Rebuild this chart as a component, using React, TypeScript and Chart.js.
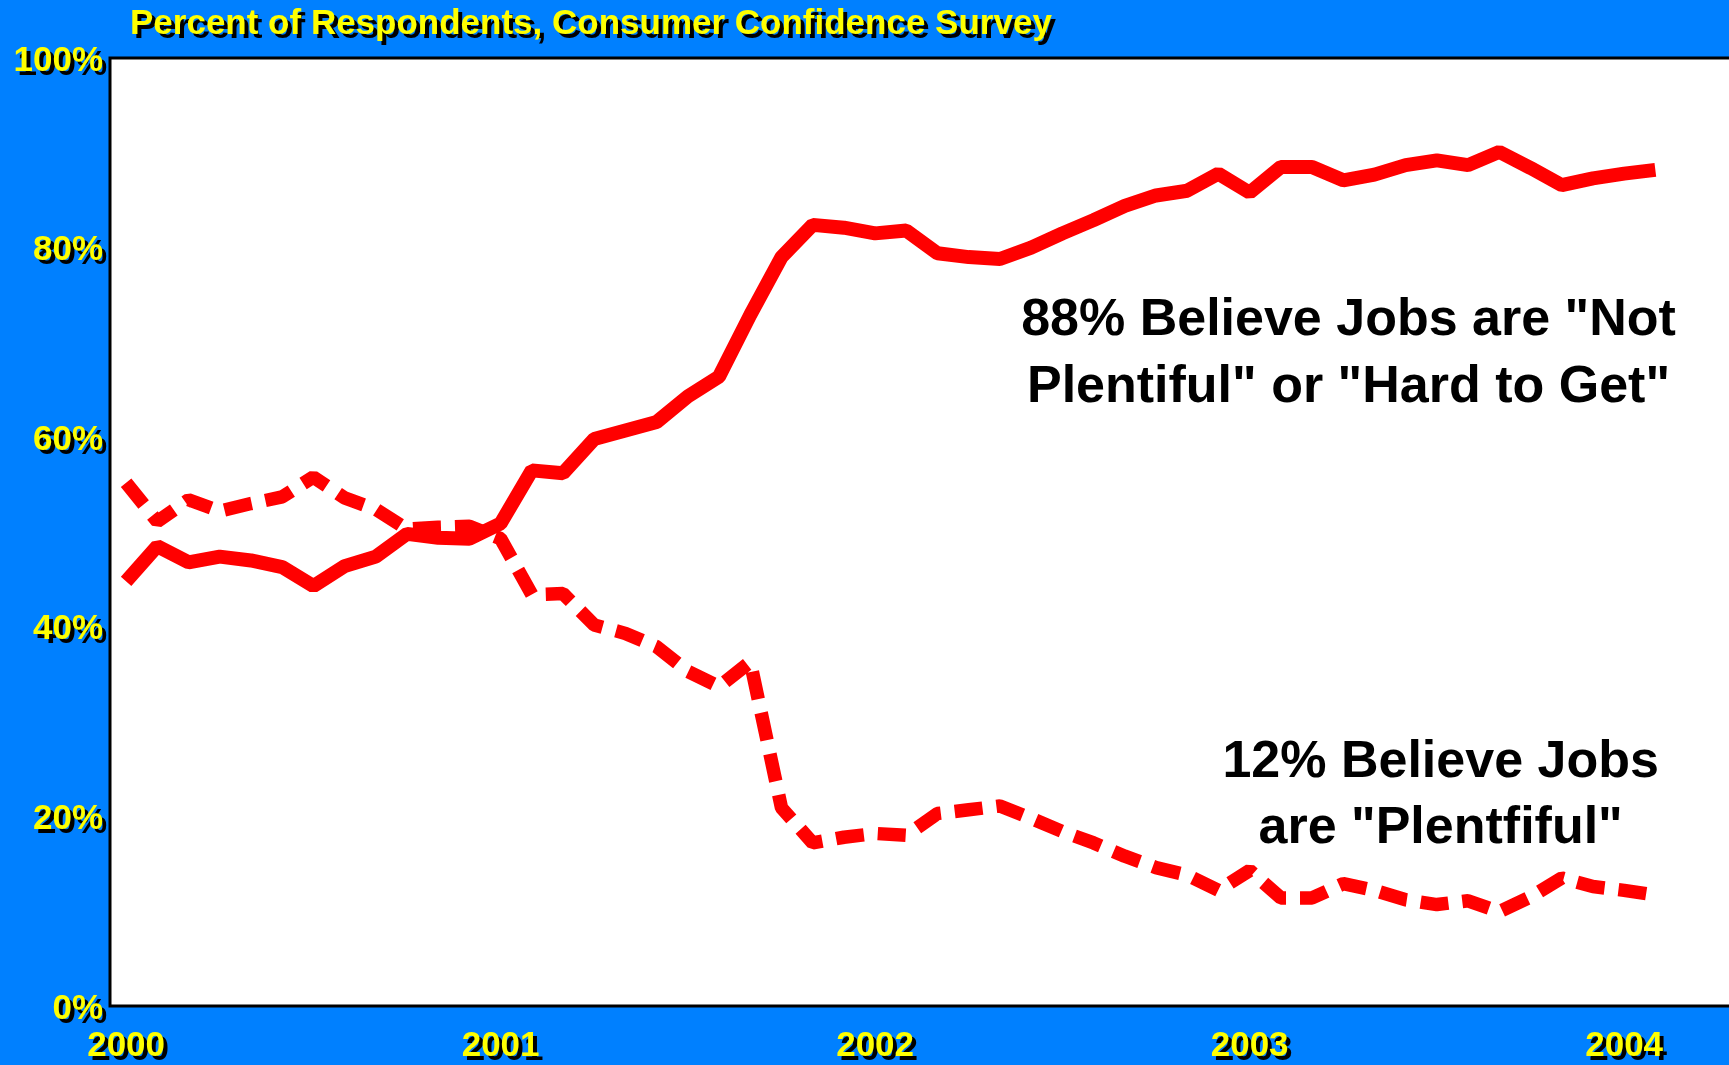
import React, { useEffect, useRef } from 'react';
import { Chart, registerables } from 'chart.js';

Chart.register(...registerables);

// ---- data (monthly, Jan 2000 .. Feb 2004) ----
const startYear = 2000;
const yearTicks = [2000, 2001, 2002, 2003, 2004];
const percentTicks = [0, 20, 40, 60, 80, 100];

const notPlentiful2000 = [44.8, 48.5, 46.8, 47.4, 47.0, 46.3, 44.3, 46.4, 47.4, 49.8, 49.4, 49.3];
const notPlentiful2001 = [50.9, 56.5, 56.2, 59.8, 60.7, 61.6, 64.3, 66.4, 72.9, 79.0, 82.4, 82.1];
const notPlentiful2002 = [81.5, 81.8, 79.4, 79.0, 78.8, 80.0, 81.5, 82.9, 84.4, 85.5, 86.0, 87.8];
const notPlentiful2003 = [85.8, 88.5, 88.5, 87.1, 87.7, 88.7, 89.2, 88.7, 90.1, 88.4, 86.6, 87.3];
const notPlentiful2004 = [87.8, 88.2];

const plentiful2000 = [55.2, 51.1, 53.4, 52.2, 53.0, 53.7, 55.8, 53.6, 52.4, 50.3, 50.5, 50.6];
const plentiful2001 = [49.3, 43.4, 43.5, 40.2, 39.3, 37.9, 35.3, 33.7, 36.3, 20.9, 17.2, 17.8];
const plentiful2002 = [18.2, 18.0, 20.3, 20.7, 21.1, 19.8, 18.4, 17.2, 15.8, 14.6, 13.8, 12.2];
const plentiful2003 = [14.3, 11.4, 11.4, 12.9, 12.2, 11.2, 10.7, 11.1, 9.95, 11.5, 13.5, 12.6];
const plentiful2004 = [12.2, 11.7];

const titleText = 'Percent of Respondents, Consumer Confidence Survey';
const noteNotPlentiful = ['88% Believe Jobs are "Not', 'Plentiful" or "Hard to Get"'];
const notePlentiful = ['12% Believe Jobs', 'are "Plentfiful"'];
// anchor of each note in data units: [x (year), y (percent) of first baseline]
const noteNotPlentifulAt = [2003.264, 70.8];
const notePlentifulAt = [2003.51, 24.2];

const notPlentiful = [...notPlentiful2000, ...notPlentiful2001, ...notPlentiful2002, ...notPlentiful2003, ...notPlentiful2004];
const plentiful = [...plentiful2000, ...plentiful2001, ...plentiful2002, ...plentiful2003, ...plentiful2004];

const toPoints = (arr: number[]) => arr.map((v, i) => ({ x: startYear + i / 12, y: v }));

const FONT = '"Liberation Sans", Arial, Helvetica, sans-serif';
const BLUE = '#0080FF';
const YELLOW = '#FFFF00';
const RED = '#FF0000';

const W = 1729;
const H = 1065;

const decorPlugin = {
  id: 'decor',
  beforeDraw(chart: any) {
    const { ctx, chartArea } = chart;
    ctx.save();
    ctx.fillStyle = BLUE;
    ctx.fillRect(0, 0, chart.width, chart.height);
    ctx.fillStyle = '#FFFFFF';
    ctx.fillRect(chartArea.left, chartArea.top, chartArea.right - chartArea.left, chartArea.bottom - chartArea.top);
    // title with shadow
    ctx.font = `bold 35px ${FONT}`;
    ctx.textAlign = 'left';
    ctx.textBaseline = 'alphabetic';
    ctx.fillStyle = '#000000';
    ctx.fillText(titleText, 134, 38);
    ctx.fillStyle = YELLOW;
    ctx.fillText(titleText, 130, 34);
    ctx.restore();
    // shadow for tick labels drawn by the scales
    ctx.shadowColor = '#000000';
    ctx.shadowOffsetX = 4;
    ctx.shadowOffsetY = 4;
    ctx.shadowBlur = 0;
  },
  beforeDatasetsDraw(chart: any) {
    const { ctx } = chart;
    ctx.shadowColor = 'rgba(0,0,0,0)';
    ctx.shadowOffsetX = 0;
    ctx.shadowOffsetY = 0;
  },
  afterDraw(chart: any) {
    const { ctx, chartArea, scales } = chart;
    ctx.save();
    ctx.strokeStyle = '#000000';
    ctx.lineWidth = 3;
    ctx.beginPath();
    ctx.moveTo(chart.width, chartArea.top);
    ctx.lineTo(chartArea.left, chartArea.top);
    ctx.lineTo(chartArea.left, chartArea.bottom);
    ctx.lineTo(chart.width, chartArea.bottom);
    ctx.stroke();

    ctx.fillStyle = '#000000';
    ctx.font = `bold 52px ${FONT}`;
    ctx.textAlign = 'center';
    ctx.textBaseline = 'alphabetic';
    const drawNote = (lines: string[], at: number[]) => {
      const x = scales.x.getPixelForValue(at[0]);
      const y = scales.y.getPixelForValue(at[1]);
      lines.forEach((l, i) => ctx.fillText(l, x, y + i * 66.7));
    };
    drawNote(noteNotPlentiful, noteNotPlentifulAt);
    drawNote(notePlentiful, notePlentifulAt);
    ctx.restore();
  },
};

export default function App() {
  const ref = useRef<HTMLCanvasElement | null>(null);
  useEffect(() => {
    if (!ref.current) return;
    const chart = new Chart(ref.current, {
      type: 'line',
      data: {
        datasets: [
          {
            label: 'Not Plentiful or Hard to Get',
            data: toPoints(notPlentiful),
            borderColor: RED,
            borderWidth: 14,
            borderJoinStyle: 'bevel',
            borderCapStyle: 'butt',
            pointRadius: 0,
            tension: 0,
            fill: false,
          },
          {
            label: 'Plentiful',
            data: toPoints(plentiful),
            borderColor: RED,
            borderWidth: 13.5,
            borderDash: [28, 14],
            borderJoinStyle: 'bevel',
            borderCapStyle: 'butt',
            pointRadius: 0,
            tension: 0,
            fill: false,
          },
        ],
      },
      options: {
        responsive: false,
        animation: false,
        layout: { padding: { top: 58, left: 0, right: 0, bottom: 0 } },
        plugins: {
          legend: { display: false },
          tooltip: { enabled: false },
          title: { display: false },
        },
        scales: {
          x: {
            type: 'linear',
            min: 1999.957,
            max: 2004.28,
            grid: { display: false, drawTicks: false },
            border: { display: false },
            afterFit: (s: any) => { s.height = 59; },
            afterBuildTicks: (s: any) => { s.ticks = yearTicks.map((v) => ({ value: v })); },
            ticks: {
              color: YELLOW,
              font: { family: FONT, size: 35, weight: 'bold' },
              padding: 19,
              maxRotation: 0,
              autoSkip: false,
              callback: (v: any) => String(v),
            },
          },
          y: {
            min: 0,
            max: 100,
            grid: { display: false, drawTicks: false },
            border: { display: false },
            afterFit: (s: any) => { s.width = 110; },
            afterBuildTicks: (s: any) => { s.ticks = percentTicks.map((v) => ({ value: v })); },
            ticks: {
              color: YELLOW,
              font: { family: FONT, size: 35, weight: 'bold' },
              padding: 7,
              labelOffset: 3,
              callback: (v: any) => `${v}%`,
            },
          },
        },
      },
      plugins: [decorPlugin],
    } as any);
    return () => chart.destroy();
  }, []);
  return (
    <div style={{ position: 'absolute', left: 0, top: 0, width: W, height: H, background: BLUE }}>
      <canvas ref={ref} width={W} height={H} style={{ display: 'block', width: W, height: H }} />
    </div>
  );
}
